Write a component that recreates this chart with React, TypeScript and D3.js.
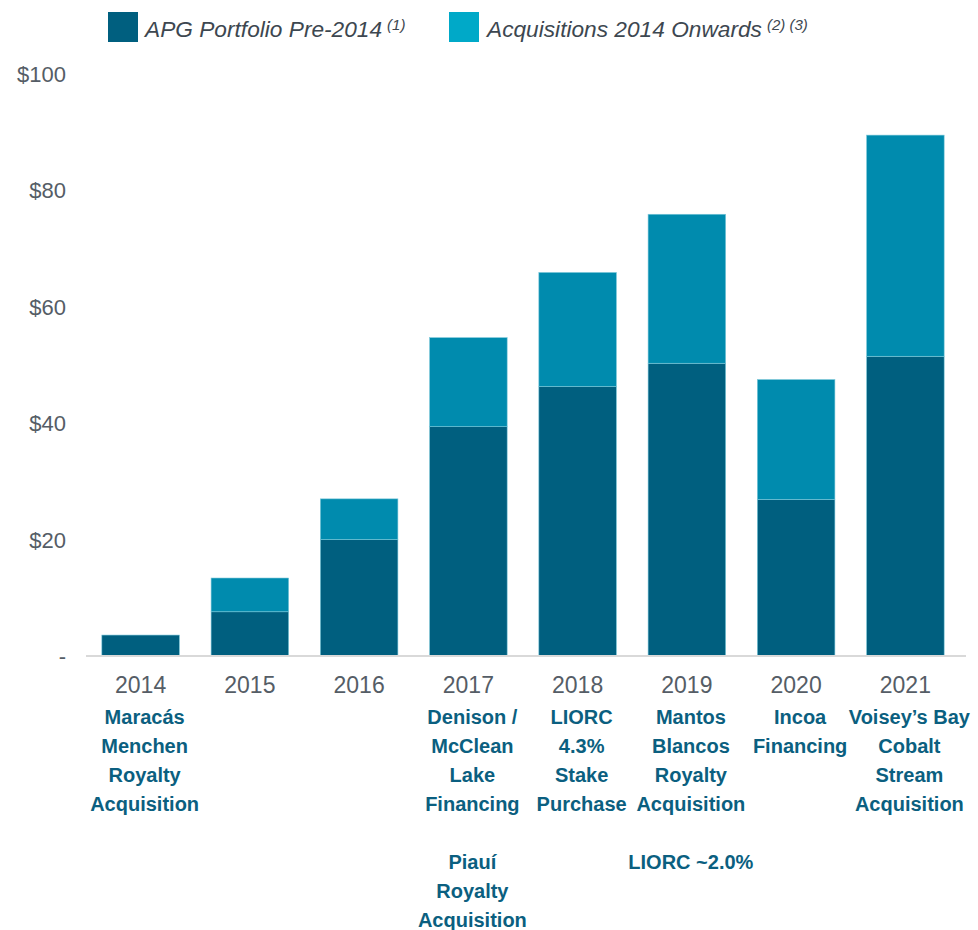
import React from 'react';
import * as d3 from 'd3';

const years = ['2014', '2015', '2016', '2017', '2018', '2019', '2020', '2021'];
const prePortfolio = [3.6, 7.6, 20.0, 39.4, 46.3, 50.3, 26.9, 51.5];
const acquisitions = [0, 5.8, 7.0, 15.3, 19.6, 25.6, 20.6, 38.0];
const yTicks = [0, 20, 40, 60, 80, 100];

// text under each year, in blocks separated by a blank gap
const notes: string[][][] = [
  [['Maracás', 'Menchen', 'Royalty', 'Acquisition']],
  [],
  [],
  [['Denison /', 'McClean', 'Lake', 'Financing'], ['Piauí', 'Royalty', 'Acquisition']],
  [['LIORC', '4.3%', 'Stake', 'Purchase']],
  [['Mantos', 'Blancos', 'Royalty', 'Acquisition'], ['LIORC ~2.0%']],
  [['Incoa', 'Financing']],
  [['Voisey’s Bay', 'Cobalt', 'Stream', 'Acquisition']],
];

const DARK = '#005f7f';
const LIGHT = '#008bae';
const LIGHT_KEY = '#00a9c8';
const FONT = '"Liberation Sans", Arial, sans-serif';

export default function App() {
  const width = 978;
  const height = 930;

  const x = d3.scaleBand<string>()
    .domain(years)
    .range([86, 960])
    .paddingInner(0.29)
    .paddingOuter(0.145);

  const y = d3.scaleLinear().domain([0, 100]).range([656, 74]);

  const stacked = years.map((yr, i) => ({
    yr,
    pre: prePortfolio[i],
    acq: acquisitions[i],
  }));
  const series = d3.stack<any>().keys(['pre', 'acq'])(stacked);
  const colors = [DARK, LIGHT];

  return (
    <svg width={width} height={height} style={{ position: 'absolute', left: 0, top: 0, fontFamily: FONT }}>
      {/* legend */}
      <rect x={108} y={12} width={30} height={30} fill={DARK} />
      <text x={145} y={37} fontSize={22.7} fontStyle="italic" fill="#3d4750">
        APG Portfolio Pre-2014
        <tspan fontSize={15} dy={-7} dx={5}>(1)</tspan>
      </text>
      <rect x={449} y={12} width={30} height={30} fill={LIGHT_KEY} />
      <text x={487} y={37} fontSize={22.7} fontStyle="italic" fill="#3d4750">
        Acquisitions 2014 Onwards
        <tspan fontSize={15} dy={-7} dx={5}>(2) (3)</tspan>
      </text>

      {/* y axis labels */}
      {yTicks.map(t => (
        <text key={t} x={66} y={y(t) + 8} fontSize={22} textAnchor="end" fill="#555d66">
          {t === 0 ? '-' : `$${t}`}
        </text>
      ))}

      {/* bars */}
      {series.map((s, si) => (
        <g key={si}>
          {s.map((d, i) => (
            d[1] - d[0] > 0 ? (
              <rect
                key={i}
                x={x(years[i])}
                y={y(d[1])}
                width={x.bandwidth()}
                height={y(d[0]) - y(d[1])}
                fill={colors[si]}
                stroke="#7cc8da"
                strokeWidth={0.6}
              />
            ) : null
          ))}
        </g>
      ))}

      {/* baseline */}
      <line x1={86} x2={966} y1={y(0)} y2={y(0)} stroke="#d9d9d9" strokeWidth={2} />

      {/* year labels */}
      {years.map(yr => (
        <text key={yr} x={(x(yr) as number) + x.bandwidth() / 2} y={693} fontSize={23} textAnchor="middle" fill="#555d66">
          {yr}
        </text>
      ))}

      {/* notes, sit a little right of the year centre */}
      {years.map((yr, i) => {
        const cx = (x(yr) as number) + x.bandwidth() / 2 + 4;
        let line = 0;
        return (
          <g key={yr}>
            {notes[i].map((block, bi) => {
              const start = line + (bi > 0 ? 1 : 0);
              line = start + block.length;
              return block.map((t, li) => (
                <text
                  key={`${bi}-${li}`}
                  x={cx}
                  y={724 + (start + li) * 29}
                  fontSize={20}
                  fontWeight="bold"
                  textAnchor="middle"
                  fill="#0b5f80"
                >
                  {t}
                </text>
              ));
            })}
          </g>
        );
      })}
    </svg>
  );
}
